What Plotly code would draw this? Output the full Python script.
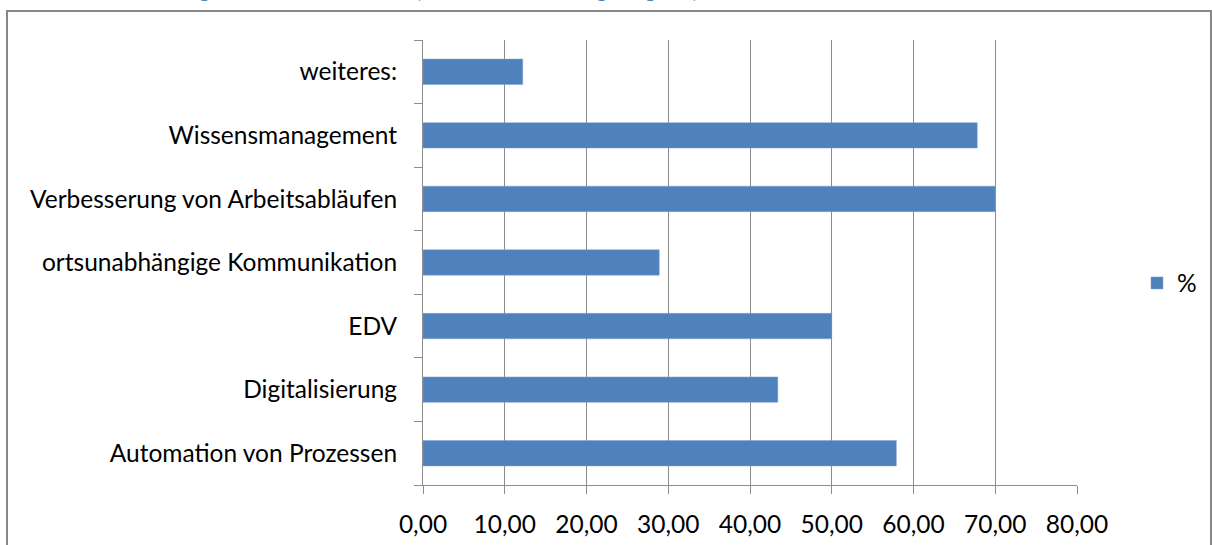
import plotly.graph_objects as go

categories = [
    "Automation von Prozessen",
    "Digitalisierung",
    "EDV",
    "ortsunabhängige Kommunikation",
    "Verbesserung von Arbeitsabläufen",
    "Wissensmanagement",
    "weiteres:",
]
values = [57.9, 43.4, 50.0, 28.9, 70.0, 67.8, 12.2]
series_name = "%"
x_ticks = [0, 10, 20, 30, 40, 50, 60, 70, 80]

FONT = "Lato, 'Open Sans', sans-serif"
FS = 24.5
GRID = "#8c8c8c"

fig = go.Figure()
fig.add_trace(go.Bar(
    y=categories, x=values, orientation="h", name=series_name,
    marker=dict(color="#4F81BD", line=dict(color="#7FA3D3", width=0.5)),
    showlegend=True,
))

L, R, T, B = 423, 135, 40, 60
W, H = 1212, 545
pw = W - L - R
ph = H - T - B

def px_x(px):
    return (px - L) / pw

def px_y(py):
    return (H - B - py) / ph

fig.update_layout(
    width=W, height=H,
    margin=dict(l=L, r=R, t=T, b=B, autoexpand=False),
    paper_bgcolor="white", plot_bgcolor="white",
    separators=",.",
    font=dict(family=FONT, size=FS, color="#000000"),
    bargap=0.6,
    xaxis=dict(
        range=[0, 80], tickvals=x_ticks, tickformat=".2f",
        showgrid=True, gridcolor=GRID, gridwidth=1,
        showline=True, linecolor=GRID, linewidth=1,
        ticks="outside", ticklen=8, tickcolor=GRID,
        ticklabelstandoff=10,
        zeroline=False, fixedrange=True, automargin=False,
        tickfont=dict(family=FONT, size=FS),
    ),
    yaxis=dict(
        type="category", categoryorder="array", categoryarray=categories,
        showgrid=False, showline=True, linecolor=GRID, linewidth=1,
        ticks="outside", ticklen=8, tickcolor=GRID, tickson="boundaries",
        ticklabelstandoff=20, automargin=False,
        tickfont=dict(family=FONT, size=FS),
    ),
    legend=dict(
        xref="container", yref="container",
        x=1137 / W, y=1 - 283 / H, xanchor="left", yanchor="middle",
        font=dict(family=FONT, size=FS), bgcolor="rgba(0,0,0,0)",
        itemwidth=30,
    ),
    shapes=[dict(
        type="rect", xref="paper", yref="paper",
        x0=px_x(7), x1=px_x(1211), y0=px_y(560), y1=px_y(11),
        line=dict(color="#878787", width=2), fillcolor="rgba(0,0,0,0)",
        layer="below",
    )],
    annotations=[dict(
        text="<b><i>Abbildung: Ziele des Einsatzes (Mehrfachnennung möglich)</i></b>",
        xref="paper", yref="paper", x=px_x(105), y=px_y(4),
        xanchor="left", yanchor="bottom", showarrow=False,
        font=dict(family=FONT, size=24, color="#4F81BD"),
    )],
)

fig.write_html("out.html")
